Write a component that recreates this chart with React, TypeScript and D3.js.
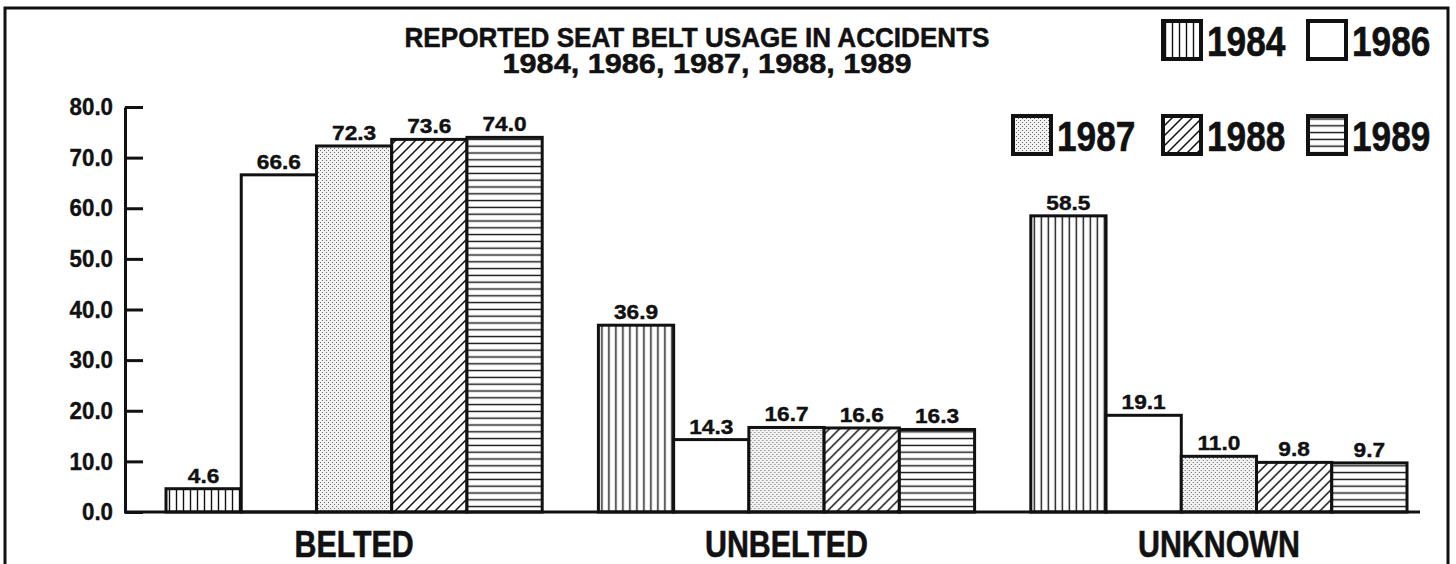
import React, { useEffect, useRef } from 'react';
import * as d3 from 'd3';

const categories = ['BELTED', 'UNBELTED', 'UNKNOWN'];
const years = ['1984', '1986', '1987', '1988', '1989'];
const v1984 = [4.6, 36.9, 58.5];
const v1986 = [66.6, 14.3, 19.1];
const v1987 = [72.3, 16.7, 11.0];
const v1988 = [73.6, 16.6, 9.8];
const v1989 = [74.0, 16.3, 9.7];
const yTicks = [0, 10, 20, 30, 40, 50, 60, 70, 80];
const legendRows = [['1984', '1986'], ['1987', '1988', '1989']];
const titleLines = ['REPORTED SEAT BELT USAGE IN ACCIDENTS', '1984, 1986, 1987, 1988, 1989'];

const seriesValues: Record<string, number[]> = {
  '1984': v1984, '1986': v1986, '1987': v1987, '1988': v1988, '1989': v1989,
};

const FONT = "'Liberation Sans', Arial, sans-serif";

// squeeze or stretch rendered text horizontally to mimic the condensed typeface
const fit = (sel: d3.Selection<any, any, any, any>, factor: number) => {
  sel.each(function () {
    const node = this as SVGTextElement;
    const w = node.getComputedTextLength();
    d3.select(node).attr('textLength', w * factor).attr('lengthAdjust', 'spacingAndGlyphs');
  });
};

const App: React.FC = () => {
  const svgRef = useRef<SVGSVGElement>(null);

  useEffect(() => {
    if (!svgRef.current) return;
    const svg = d3.select(svgRef.current);
    svg.selectAll('*').remove();

    const height = 564;

    // patterns
    const defs = svg.append('defs');
    const vert = defs.append('pattern').attr('id', 'p1984').attr('patternUnits', 'userSpaceOnUse')
      .attr('width', 7).attr('height', 7);
    vert.append('rect').attr('width', 7).attr('height', 7).attr('fill', '#fff');
    vert.append('line').attr('x1', 3.5).attr('x2', 3.5).attr('y1', 0).attr('y2', 7)
      .attr('stroke', '#111').attr('stroke-width', 1.4);

    const blank = defs.append('pattern').attr('id', 'p1986').attr('patternUnits', 'userSpaceOnUse')
      .attr('width', 4).attr('height', 4);
    blank.append('rect').attr('width', 4).attr('height', 4).attr('fill', '#fff');

    const dots = defs.append('pattern').attr('id', 'p1987').attr('patternUnits', 'userSpaceOnUse')
      .attr('width', 4).attr('height', 4);
    dots.append('rect').attr('width', 4).attr('height', 4).attr('fill', '#f2f2f2');
    dots.append('rect').attr('x', 0).attr('y', 0).attr('width', 1).attr('height', 1).attr('fill', '#666');
    dots.append('rect').attr('x', 2).attr('y', 2).attr('width', 1).attr('height', 1).attr('fill', '#666');

    const diag = defs.append('pattern').attr('id', 'p1988').attr('patternUnits', 'userSpaceOnUse')
      .attr('width', 10).attr('height', 10);
    diag.append('rect').attr('width', 10).attr('height', 10).attr('fill', '#fff');
    diag.append('path').attr('d', 'M-2,12 L12,-2 M-7,7 L7,-7 M3,17 L17,3')
      .attr('stroke', '#111').attr('stroke-width', 1.5);

    const horiz = defs.append('pattern').attr('id', 'p1989').attr('patternUnits', 'userSpaceOnUse')
      .attr('width', 7).attr('height', 6.8);
    horiz.append('rect').attr('width', 7).attr('height', 6.8).attr('fill', '#fff');
    horiz.append('line').attr('x1', 0).attr('x2', 7).attr('y1', 3.4).attr('y2', 3.4)
      .attr('stroke', '#111').attr('stroke-width', 1.4);

    // outer frame
    svg.append('rect').attr('x', 5).attr('y', 8).attr('width', 1443).attr('height', height + 20)
      .attr('fill', 'none').attr('stroke', '#111').attr('stroke-width', 3);

    const x0 = d3.scaleBand<string>().domain(categories).range([166, 1407])
      .paddingInner(0.13).paddingOuter(0);
    const x1 = d3.scaleBand<string>().domain(years).range([0, x0.bandwidth()]);
    const y = d3.scaleLinear().domain([0, 80]).range([512, 107]);

    // bars
    const groups = svg.append('g').selectAll('g')
      .data(categories)
      .join('g')
      .attr('transform', d => `translate(${x0(d)},0)`);

    groups.selectAll('rect')
      .data((c, ci) => years.map(yr => ({ yr, v: seriesValues[yr][ci] })))
      .join('rect')
      .attr('x', d => x1(d.yr)!)
      .attr('y', d => y(d.v))
      .attr('width', x1.bandwidth())
      .attr('height', d => y(0) - y(d.v))
      .attr('fill', d => `url(#p${d.yr})`)
      .attr('stroke', '#111')
      .attr('stroke-width', 3);

    const valueLabels = groups.selectAll('text')
      .data((c, ci) => years.map(yr => ({ yr, v: seriesValues[yr][ci] })))
      .join('text')
      .attr('x', d => x1(d.yr)! + x1.bandwidth() / 2)
      .attr('y', d => y(d.v) - 6)
      .attr('text-anchor', 'middle')
      .attr('font-family', FONT)
      .attr('font-weight', 'bold')
      .attr('font-size', 21)
      .attr('fill', '#111')
      .attr('stroke', '#111')
      .attr('stroke-width', 0.4)
      .text(d => d3.format('.1f')(d.v));
    fit(valueLabels, 1.08);

    // y axis
    const yAxis = svg.append('g')
      .attr('transform', 'translate(125,0)')
      .call(d3.axisLeft(y).tickValues(yTicks).tickSizeInner(-18).tickSizeOuter(0)
        .tickPadding(12).tickFormat(d3.format('.1f')));
    yAxis.select('.domain').attr('stroke', '#111').attr('stroke-width', 3);
    yAxis.selectAll('.tick line').attr('stroke', '#111').attr('stroke-width', 3);
    const tickText = yAxis.selectAll('.tick text')
      .attr('font-family', FONT)
      .attr('font-weight', 'bold')
      .attr('font-size', 24)
      .attr('fill', '#111')
      .attr('stroke', '#111')
      .attr('stroke-width', 0.4);
    fit(tickText, 0.93);

    // baseline
    svg.append('line').attr('x1', 124).attr('x2', 1420).attr('y1', y(0)).attr('y2', y(0))
      .attr('stroke', '#111').attr('stroke-width', 3);

    // category labels
    const catText = svg.append('g').selectAll('text')
      .data(categories)
      .join('text')
      .attr('x', d => x0(d)! + x0.bandwidth() / 2)
      .attr('y', 557)
      .attr('text-anchor', 'middle')
      .attr('font-family', FONT)
      .attr('font-weight', 'bold')
      .attr('font-size', 37)
      .attr('fill', '#111')
      .attr('stroke', '#111')
      .attr('stroke-width', 0.6)
      .text(d => d);
    fit(catText, 0.82);

    // title
    const titleX = [697, 707];
    const titleY = [47, 73];
    const titleW = [585, 409];
    titleLines.forEach((t, i) => {
      svg.append('text').attr('x', titleX[i]).attr('y', titleY[i]).attr('text-anchor', 'middle')
        .attr('font-family', FONT).attr('font-weight', 'bold').attr('font-size', 28)
        .attr('fill', '#111').attr('stroke', '#111').attr('stroke-width', 0.5)
        .attr('textLength', titleW[i]).attr('lengthAdjust', 'spacingAndGlyphs')
        .text(t);
    });

    // legend
    const colX = [1013, 1163, 1308];
    const rowY = [21, 116];
    const box = 38;
    legendRows.forEach((row, ri) => {
      const offset = 3 - row.length;
      row.forEach((yr, i) => {
        const bx = colX[i + offset];
        const by = rowY[ri];
        svg.append('rect').attr('x', bx).attr('y', by).attr('width', box).attr('height', box)
          .attr('fill', `url(#p${yr})`).attr('stroke', '#111').attr('stroke-width', 4);
        const t = svg.append('text').attr('x', bx + box + 6).attr('y', by + box - 3)
          .attr('font-family', FONT).attr('font-weight', 'bold').attr('font-size', 43)
          .attr('fill', '#111').attr('stroke', '#111').attr('stroke-width', 0.6).text(yr);
        fit(t, 0.82);
      });
    });
  }, []);

  return (
    <svg ref={svgRef} width={1456} height={564}
      style={{ position: 'absolute', left: 0, top: 0, background: '#fff' }} />
  );
};

export default App;
